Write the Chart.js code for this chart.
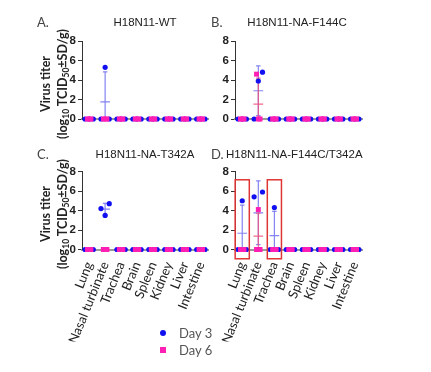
<!DOCTYPE html>
<html>
<head>
<meta charset="utf-8">
<script src="https://cdn.jsdelivr.net/npm/chart.js@4.4.1/dist/chart.umd.min.js"></script>
<style>
body { margin: 0; background: #fff; width: 431px; height: 372px; position: relative; overflow: hidden; font-family: Lato, sans-serif; }
canvas { position: absolute; left: 0; top: 0; }
.lt { position: absolute; font: 13px Lato; line-height: 16px; color: #444; }
.tt { position: absolute; font: 11.5px 'Liberation Sans'; line-height: 14px; color: #222; white-space: nowrap; }
.tc { transform: translateX(-50%); }
.yt { position: absolute; transform: translate(-50%, -50%) rotate(-90deg); white-space: nowrap; font: bold 12.5px Lato; line-height: 17px; color: #222; text-align: center; }
.yt sub { font-size: 8.5px; vertical-align: -2px; line-height: 0; }
.lg { position: absolute; font: 13px Lato; line-height: 16px; color: #555; }
.dot { position: absolute; width: 6px; height: 6px; border-radius: 50%; background: #1010f0; }
.sq { position: absolute; width: 6px; height: 6px; background: #ff1fb4; }
</style>
</head>
<body>
<canvas id="chartA"></canvas>
<canvas id="chartB"></canvas>
<canvas id="chartC"></canvas>
<canvas id="chartD"></canvas>

<div class="lt" style="left:37px;top:14px">A.</div>
<div class="tt tc" style="left:145px;top:15px">H18N11-WT</div>
<div class="lt" style="left:211px;top:14px">B.</div>
<div class="tt tc" style="left:297px;top:15px">H18N11-NA-F144C</div>
<div class="lt" style="left:37px;top:146px">C.</div>
<div class="tt tc" style="left:145px;top:147px">H18N11-NA-T342A</div>
<div class="lt" style="left:211px;top:146px">D.</div>
<div class="tt" style="left:226px;top:147px">H18N11-NA-F144C/T342A</div>

<div class="yt" style="left:54px;top:84px">Virus titer<br>(log<sub>10</sub> TCID<sub>50</sub>±SD/g)</div>
<div class="yt" style="left:54px;top:214px">Virus titer<br>(log<sub>10</sub> TCID<sub>50</sub>±SD/g)</div>

<div class="dot" style="left:160px;top:330px"></div>
<div class="lg" style="left:179px;top:325px">Day 3</div>
<div class="sq" style="left:160px;top:347px"></div>
<div class="lg" style="left:179px;top:342px">Day 6</div>

<script>
var organs = ['Lung', 'Nasal turbinate', 'Trachea', 'Brain', 'Spleen', 'Kidney', 'Liver', 'Intestine'];
var yTicks = [0, 2, 4, 6, 8];

// three mice per organ, log10 TCID50/g
var wtDay3 = [[0, 0, 0], [0, 5.3, 0], [0, 0, 0], [0, 0, 0], [0, 0, 0], [0, 0, 0], [0, 0, 0], [0, 0, 0]];
var wtDay6 = [[0, 0, 0], [0, 0, 0], [0, 0, 0], [0, 0, 0], [0, 0, 0], [0, 0, 0], [0, 0, 0], [0, 0, 0]];
var f144cDay3 = [[0, 0, 0], [0, 3.9, 4.8], [0, 0, 0], [0, 0, 0], [0, 0, 0], [0, 0, 0], [0, 0, 0], [0, 0, 0]];
var f144cDay6 = [[0, 0, 0], [4.6, 0, 0], [0, 0, 0], [0, 0, 0], [0, 0, 0], [0, 0, 0], [0, 0, 0], [0, 0, 0]];
var t342aDay3 = [[0, 0, 0], [4.2, 3.5, 4.7], [0, 0, 0], [0, 0, 0], [0, 0, 0], [0, 0, 0], [0, 0, 0], [0, 0, 0]];
var t342aDay6 = [[0, 0, 0], [0, 0, 0], [0, 0, 0], [0, 0, 0], [0, 0, 0], [0, 0, 0], [0, 0, 0], [0, 0, 0]];
var doubleDay3 = [[0, 5.0, 0], [5.4, 0, 5.9], [0, 4.3, 0], [0, 0, 0], [0, 0, 0], [0, 0, 0], [0, 0, 0], [0, 0, 0]];
var doubleDay6 = [[0, 0, 0], [0, 4.1, 0], [0, 0, 0], [0, 0, 0], [0, 0, 0], [0, 0, 0], [0, 0, 0], [0, 0, 0]];
var highlightD = ['Lung', 'Trachea'];

var blue = '#1010f0';
var magenta = '#ff1fb4';
var blueBar = 'rgba(110,110,240,0.85)';
var pinkBar = 'rgba(240,80,120,0.85)';
var jit3 = [-0.26, 0, 0.26];
var jit6 = [-0.11, 0, 0.11];

function mean(a) {
    var s = 0;
    a.forEach(function (v) { s += v; });
    return s / a.length;
}
function sdev(a) {
    var m = mean(a), s = 0;
    a.forEach(function (v) { s += (v - m) * (v - m); });
    return Math.sqrt(s / (a.length - 1));
}

function toPoints(vals, jit) {
    var pts = [];
    vals.forEach(function (row, i) {
        row.forEach(function (v, j) {
            pts.push({x: i + jit[j], y: v});
        });
    });
    return pts;
}

function errorBars(groups, boxes) {
    return {
        id: 'errorBars',
        beforeDatasetsDraw: function (chart) {
            var xs = chart.scales.x, ys = chart.scales.y, ctx = chart.ctx;
            ctx.save();
            ctx.lineWidth = 1.2;
            groups.forEach(function (g) {
                ctx.strokeStyle = g.color;
                g.vals.forEach(function (row, i) {
                    var m = mean(row), sd = sdev(row);
                    var cx = xs.getPixelForValue(i);
                    var hw = xs.getPixelForValue(i + 0.3) - cx;
                    var cw = xs.getPixelForValue(i + 0.14) - cx;
                    var yM = ys.getPixelForValue(m);
                    ctx.beginPath();
                    ctx.moveTo(cx - hw, yM); ctx.lineTo(cx + hw, yM);
                    if (sd > 0) {
                        var yT = ys.getPixelForValue(m + sd);
                        var yB = ys.getPixelForValue(Math.max(m - sd, 0));
                        ctx.moveTo(cx, yT); ctx.lineTo(cx, yB);
                        ctx.moveTo(cx - cw, yT); ctx.lineTo(cx + cw, yT);
                        if (m - sd > 0) {
                            ctx.moveTo(cx - cw, yB); ctx.lineTo(cx + cw, yB);
                        }
                    }
                    ctx.stroke();
                });
            });
            ctx.restore();
        },
        afterDatasetsDraw: function (chart) {
            if (!boxes) return;
            var xs = chart.scales.x, ys = chart.scales.y, ctx = chart.ctx;
            ctx.save();
            ctx.strokeStyle = '#e03535';
            ctx.lineWidth = 1.5;
            boxes.forEach(function (name) {
                var i = organs.indexOf(name);
                var x0 = xs.getPixelForValue(i - 0.44), x1 = xs.getPixelForValue(i + 0.44);
                var y0 = ys.getPixelForValue(7.15), y1 = ys.getPixelForValue(-0.95);
                ctx.strokeRect(x0, y0, x1 - x0, y1 - y0);
            });
            ctx.restore();
        }
    };
}

function makePanel(id, geo, day3, day6, showLabels, boxes) {
    var el = document.getElementById(id);
    el.width = 431;
    el.height = 372;
    var xh = showLabels ? 92 : 4;
    return new Chart(el, {
        type: 'scatter',
        data: {
            datasets: [{
                label: 'Day 3',
                data: toPoints(day3, jit3),
                pointStyle: 'circle',
                pointRadius: 2.6,
                pointBorderWidth: 0,
                backgroundColor: blue,
                clip: false,
                order: 2
            }, {
                label: 'Day 6',
                data: toPoints(day6, jit6),
                pointStyle: 'rect',
                pointRadius: 3.5,
                pointBorderWidth: 0,
                backgroundColor: magenta,
                clip: false,
                order: 1
            }]
        },
        options: {
            responsive: false,
            animation: false,
            devicePixelRatio: 1,
            layout: {
                padding: {left: 0, right: 431 - geo.right, top: geo.top, bottom: 372 - geo.bottom - xh}
            },
            plugins: {
                legend: {display: false},
                tooltip: {enabled: false}
            },
            scales: {
                x: {
                    type: 'linear',
                    min: -0.45,
                    max: 7.45,
                    afterFit: function (s) { s.height = xh; },
                    grid: {display: false},
                    border: {display: true, color: '#9a9a9a', width: 2},
                    ticks: {
                        display: showLabels,
                        stepSize: 1,
                        includeBounds: false,
                        autoSkip: false,
                        minRotation: 68,
                        maxRotation: 68,
                        padding: 2,
                        color: '#222',
                        font: {family: 'Lato', size: 13},
                        callback: function (v) { return organs[v] || ''; }
                    }
                },
                y: {
                    min: 0,
                    max: 8,
                    afterFit: function (s) { s.width = geo.left; },
                    afterBuildTicks: function (s) {
                        s.ticks = yTicks.map(function (v) { return {value: v}; });
                    },
                    grid: {drawOnChartArea: false, drawTicks: true, tickLength: 4, color: '#333'},
                    border: {display: true, color: '#333', width: 1},
                    ticks: {
                        padding: 2,
                        color: '#222',
                        font: {family: 'Liberation Sans', size: 11.5, weight: 'bold'}
                    }
                }
            }
        },
        plugins: [errorBars([{vals: day3, color: blueBar}, {vals: day6, color: pinkBar}], boxes)]
    });
}

makePanel('chartA', {left: 82, right: 208, top: 41, bottom: 119}, wtDay3, wtDay6, false, null);
makePanel('chartB', {left: 235, right: 362, top: 41, bottom: 119}, f144cDay3, f144cDay6, false, null);
makePanel('chartC', {left: 82, right: 208, top: 171.5, bottom: 249.5}, t342aDay3, t342aDay6, true, null);
makePanel('chartD', {left: 235, right: 362, top: 171.5, bottom: 249.5}, doubleDay3, doubleDay6, true, highlightD);
</script>
</body>
</html>
